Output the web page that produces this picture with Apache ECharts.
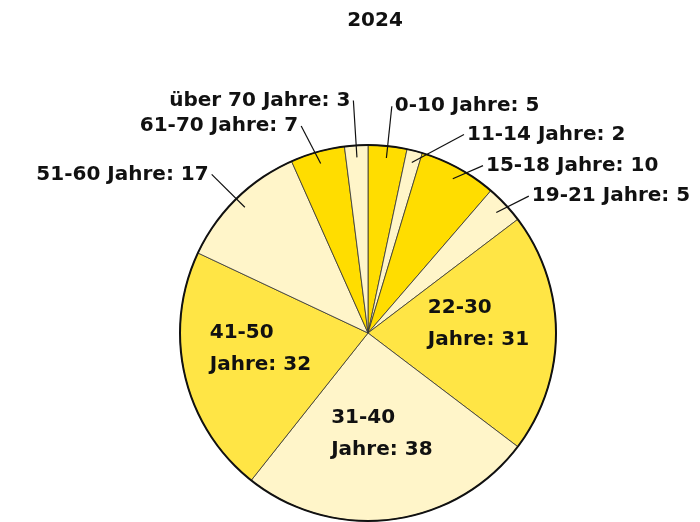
<!DOCTYPE html>
<html>
<head>
<meta charset="utf-8">
<script src="https://cdn.jsdelivr.net/npm/echarts@6/dist/echarts.min.js"></script>
<style>html,body{margin:0;padding:0;background:#fff}#c{width:700px;height:522px}</style>
</head>
<body>
<div id="c"></div>
<script>
// Altersgruppen und Anzahl
const categories = ['0-10', '11-14', '15-18', '19-21', '22-30', '31-40', '41-50', '51-60', '61-70', 'über 70'];
const values = [5, 2, 10, 5, 31, 38, 32, 17, 7, 3];
const title = '2024';
// Gruppen, deren Beschriftung im Segment steht
const insideGroups = ['22-30', '31-40', '41-50'];

const GOLD = '#FFDD00', PALE = '#FFF5C9', YELLOW = '#FFE545';
const sliceColors = [GOLD, PALE, GOLD, PALE, YELLOW, PALE, YELLOW, PALE, GOLD, PALE];

// Führungslinien: radiale und waagerechte Länge je Gruppe (Außenbeschriftung)
const leaderStyle = {
  '0-10':    [52, 0],
  '11-14':   [29, 45],
  '15-18':   [15, 23],
  '19-21':   [24, 15],
  '51-60':   [46, 1],
  '61-70':   [39, 9],
  'über 70': [57, 0]
};

const FONT = 'DejaVu Sans';
const CENTER = ['368', '333'];
const R = 188;

const baseData = categories.map((c, i) => ({ name: c, value: values[i] }));
const total = values.reduce((a, b) => a + b, 0);

const chart = echarts.init(document.getElementById('c'), null, { renderer: 'canvas' });
chart.setOption({
  animation: false,
  title: {
    text: title, left: 370, top: 6, textAlign: 'center',
    textStyle: { fontFamily: FONT, fontWeight: 'bold', fontSize: 20, color: '#111' }
  },
  series: [
    {
      // Segmente
      type: 'pie', center: CENTER, radius: [0, R], silent: true,
      startAngle: 90, clockwise: true,
      data: baseData.map((d, i) => ({ ...d, itemStyle: { color: sliceColors[i] } })),
      itemStyle: { borderColor: '#333', borderWidth: 0.8 },
      label: { show: false }, labelLine: { show: false }
    },
    {
      // Außenkontur
      type: 'pie', center: CENTER, radius: [R - 1, R + 1], silent: true,
      data: [{ name: 'Summe', value: total }],
      itemStyle: { color: '#111' }, label: { show: false }, labelLine: { show: false }
    },
    {
      // Außenbeschriftungen mit geraden Führungslinien
      type: 'pie', center: CENTER, radius: [0, 176], silent: true,
      startAngle: 90, clockwise: true, z: 5, avoidLabelOverlap: false,
      data: baseData.map(d => {
        const outside = !insideGroups.includes(d.name);
        const ls = leaderStyle[d.name] || [30, 0];
        return {
          ...d,
          label: { show: outside },
          labelLine: { show: outside, length: ls[0], length2: ls[1] }
        };
      }),
      itemStyle: { color: 'rgba(0,0,0,0)', borderWidth: 0 },
      label: {
        position: 'outside', formatter: p => p.name + ' Jahre: ' + p.value,
        fontFamily: FONT, fontWeight: 'bold', fontSize: 20, color: '#111',
        distanceToLabelLine: 3
      },
      labelLayout: p => {
        const pts = p.labelLinePoints;
        if (!pts || pts.length < 3) return {};
        // Knick entfernen: direkte Linie vom Start- zum Endpunkt
        return { labelLinePoints: [pts[0], pts[2], pts[2]] };
      },
      labelLine: { lineStyle: { color: '#111', width: 1.2 } }
    },
    {
      // Innenbeschriftungen
      type: 'pie', center: CENTER, radius: [0, 215], silent: true,
      startAngle: 90, clockwise: true, z: 5,
      data: baseData.map(d => ({ ...d, label: { show: insideGroups.includes(d.name) } })),
      itemStyle: { color: 'rgba(0,0,0,0)', borderWidth: 0 },
      label: {
        position: 'inside', formatter: p => p.name + '\nJahre: ' + p.value,
        fontFamily: FONT, fontWeight: 'bold', fontSize: 20, color: '#111',
        lineHeight: 32
      },
      labelLayout: p => ({ align: 'left', dx: -p.labelRect.width / 2, dy: -9 }),
      labelLine: { show: false }
    }
  ]
});
</script>
</body>
</html>
